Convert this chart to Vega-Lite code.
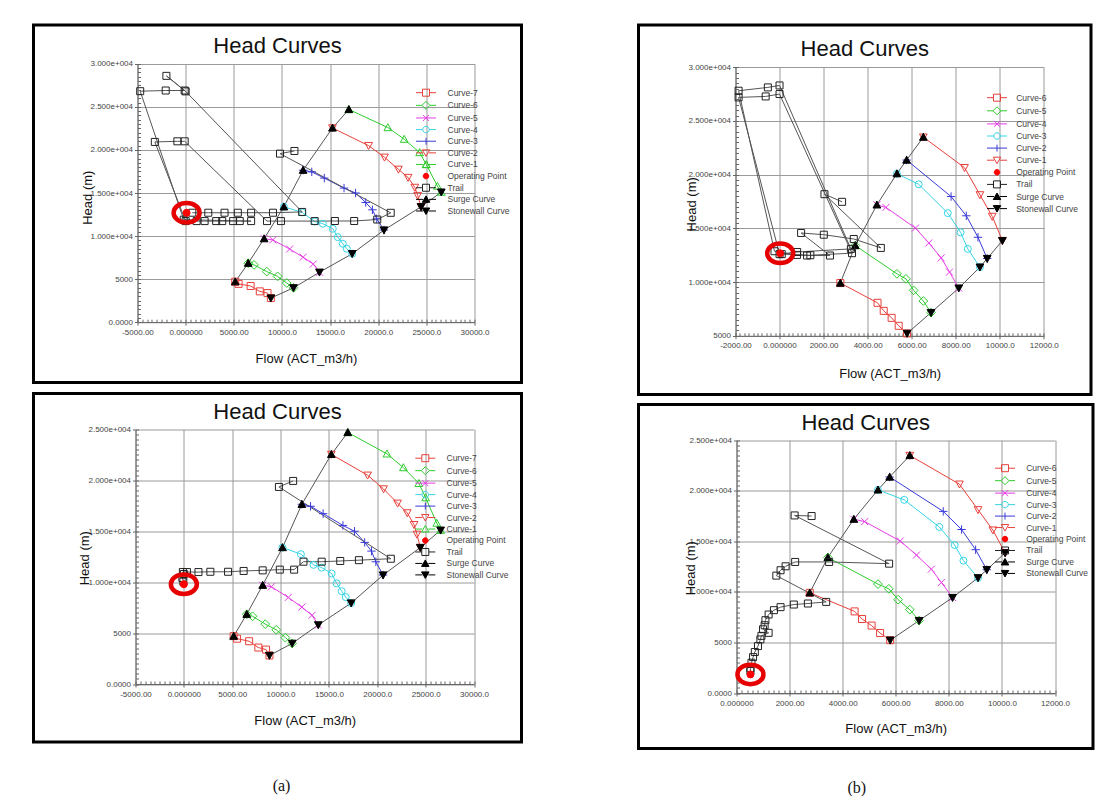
{
 "$schema": "https://vega.github.io/schema/vega-lite/v6.json",
 "background": "white",
 "padding": {"left": 31.5, "top": 23, "right": 0, "bottom": 0},
 "spacing": 113,
 "config": {
  "font": "Liberation Sans",
  "view": {"stroke": "black", "strokeWidth": 3, "fill": "white"},
  "axis": {"labelFont": "Liberation Sans", "labelFontSize": 8, "labelColor": "#444", "titleFont": "Liberation Sans", "titleFontSize": 13, "titleFontWeight": "normal", "titleColor": "#111", "domainColor": "#666", "tickColor": "#666", "gridColor": "#9a9a9a", "gridWidth": 1, "labelFlush": false, "labelOverlap": false, "labelAngle": 0},
  "legend": {"orient": "none", "symbolSize": 100, "symbolStrokeWidth": 1, "labelFont": "Liberation Sans", "labelFontSize": 8.5, "labelColor": "#444", "padding": 0, "symbolOffset": 0},
  "title": {"font": "Liberation Sans", "fontSize": 22, "fontWeight": "normal", "anchor": "middle", "color": "#111", "baseline": "middle"}
 },
 "datasets": {
  "tl": [
   {"s":"Curve-7","x":5150,"y":4700,"o":1},{"s":"Curve-7","x":5500,"y":4450,"o":2},{"s":"Curve-7","x":6750,"y":4200,"o":3},{"s":"Curve-7","x":7700,"y":3580,"o":4},{"s":"Curve-7","x":8500,"y":3380,"o":5},{"s":"Curve-7","x":8850,"y":2800,"o":6},
   {"s":"Curve-6","x":6500,"y":6850,"o":1},{"s":"Curve-6","x":7100,"y":6650,"o":2},{"s":"Curve-6","x":8420,"y":5880,"o":3},{"s":"Curve-6","x":9550,"y":5320,"o":4},{"s":"Curve-6","x":10500,"y":4550,"o":5},{"s":"Curve-6","x":11200,"y":3990,"o":6},
   {"s":"Curve-5","x":8150,"y":9700,"o":1},{"s":"Curve-5","x":9050,"y":9550,"o":2},{"s":"Curve-5","x":10800,"y":8500,"o":3},{"s":"Curve-5","x":12200,"y":7550,"o":4},{"s":"Curve-5","x":13250,"y":6750,"o":5},{"s":"Curve-5","x":13900,"y":5800,"o":6},
   {"s":"Curve-4","x":10200,"y":13400,"o":1},{"s":"Curve-4","x":12100,"y":12750,"o":2},{"s":"Curve-4","x":13400,"y":11700,"o":3},{"s":"Curve-4","x":14250,"y":11430,"o":4},{"s":"Curve-4","x":15280,"y":10850,"o":5},{"s":"Curve-4","x":15800,"y":9880,"o":6},{"s":"Curve-4","x":16320,"y":9110,"o":7},{"s":"Curve-4","x":16740,"y":8530,"o":8},{"s":"Curve-4","x":17300,"y":7950,"o":9},
   {"s":"Curve-3","x":12200,"y":17650,"o":1},{"s":"Curve-3","x":13100,"y":17450,"o":2},{"s":"Curve-3","x":14400,"y":16730,"o":3},{"s":"Curve-3","x":16450,"y":15570,"o":4},{"s":"Curve-3","x":17650,"y":15000,"o":5},{"s":"Curve-3","x":18700,"y":13900,"o":6},{"s":"Curve-3","x":19400,"y":13050,"o":7},{"s":"Curve-3","x":19850,"y":12000,"o":8},{"s":"Curve-3","x":20600,"y":10700,"o":9},
   {"s":"Curve-2","x":15250,"y":22550,"o":1},{"s":"Curve-2","x":19000,"y":20500,"o":2},{"s":"Curve-2","x":20650,"y":19150,"o":3},{"s":"Curve-2","x":22100,"y":17750,"o":4},{"s":"Curve-2","x":23100,"y":16800,"o":5},{"s":"Curve-2","x":23800,"y":15650,"o":6},{"s":"Curve-2","x":24100,"y":14700,"o":7},{"s":"Curve-2","x":24450,"y":13400,"o":8},
   {"s":"Curve-1","x":16950,"y":24700,"o":1},{"s":"Curve-1","x":21000,"y":22600,"o":2},{"s":"Curve-1","x":22700,"y":21250,"o":3},{"s":"Curve-1","x":24300,"y":19700,"o":4},{"s":"Curve-1","x":25000,"y":18300,"o":5},{"s":"Curve-1","x":26150,"y":15800,"o":6},{"s":"Curve-1","x":26550,"y":15100,"o":7},
   {"s":"Surge Curve","x":5150,"y":4700,"o":1},{"s":"Surge Curve","x":6500,"y":6850,"o":2},{"s":"Surge Curve","x":8150,"y":9700,"o":3},{"s":"Surge Curve","x":10200,"y":13400,"o":4},{"s":"Surge Curve","x":12200,"y":17650,"o":5},{"s":"Surge Curve","x":15250,"y":22550,"o":6},{"s":"Surge Curve","x":16950,"y":24700,"o":7},
   {"s":"Stonewall Curve","x":8850,"y":2800,"o":1},{"s":"Stonewall Curve","x":11200,"y":3990,"o":2},{"s":"Stonewall Curve","x":13900,"y":5800,"o":3},{"s":"Stonewall Curve","x":17300,"y":7950,"o":4},{"s":"Stonewall Curve","x":20600,"y":10700,"o":5},{"s":"Stonewall Curve","x":24450,"y":13400,"o":6},{"s":"Stonewall Curve","x":26550,"y":15100,"o":7},
   {"s":"Trail","x":11300,"y":19880,"o":1},{"s":"Trail","x":9800,"y":19570,"o":2},{"s":"Trail","x":21300,"y":12700,"o":3},{"s":"Trail","x":19900,"y":11920,"o":4},{"s":"Trail","x":17500,"y":11750,"o":5},{"s":"Trail","x":15500,"y":11750,"o":6},{"s":"Trail","x":13400,"y":11740,"o":7},{"s":"Trail","x":9900,"y":11740,"o":8},{"s":"Trail","x":8450,"y":11740,"o":9},{"s":"Trail","x":-100,"y":21000,"o":10},{"s":"Trail","x":-860,"y":21000,"o":11},{"s":"Trail","x":-3200,"y":20930,"o":12},{"s":"Trail","x":0,"y":11740,"o":13},{"s":"Trail","x":1140,"y":11740,"o":14},{"s":"Trail","x":1970,"y":11740,"o":15},{"s":"Trail","x":3170,"y":11740,"o":16},{"s":"Trail","x":3800,"y":11740,"o":17},{"s":"Trail","x":4930,"y":11740,"o":18},{"s":"Trail","x":5620,"y":11740,"o":19},{"s":"Trail","x":6800,"y":11740,"o":20},{"s":"Trail","x":-200,"y":11900,"o":21},{"s":"Trail","x":-4720,"y":26820,"o":22},{"s":"Trail","x":-2070,"y":26900,"o":23},{"s":"Trail","x":-100,"y":26900,"o":24},{"s":"Trail","x":-2000,"y":28600,"o":25},{"s":"Trail","x":0,"y":26800,"o":26},{"s":"Trail","x":12100,"y":12800,"o":27},{"s":"Trail","x":9070,"y":12710,"o":28},{"s":"Trail","x":6800,"y":12710,"o":29},{"s":"Trail","x":5420,"y":12710,"o":30},{"s":"Trail","x":4040,"y":12710,"o":31},{"s":"Trail","x":2350,"y":12710,"o":32},{"s":"Trail","x":690,"y":12710,"o":33},
   {"s":"Operating Point","x":100,"y":12700,"o":1}
  ],
  "bl": [
   {"s":"Curve-7","x":5150,"y":4700,"o":1},{"s":"Curve-7","x":5500,"y":4450,"o":2},{"s":"Curve-7","x":6750,"y":4200,"o":3},{"s":"Curve-7","x":7700,"y":3580,"o":4},{"s":"Curve-7","x":8500,"y":3380,"o":5},{"s":"Curve-7","x":8850,"y":2800,"o":6},
   {"s":"Curve-6","x":6500,"y":6850,"o":1},{"s":"Curve-6","x":7100,"y":6650,"o":2},{"s":"Curve-6","x":8420,"y":5880,"o":3},{"s":"Curve-6","x":9550,"y":5320,"o":4},{"s":"Curve-6","x":10500,"y":4550,"o":5},{"s":"Curve-6","x":11200,"y":3990,"o":6},
   {"s":"Curve-5","x":8150,"y":9700,"o":1},{"s":"Curve-5","x":9050,"y":9550,"o":2},{"s":"Curve-5","x":10800,"y":8500,"o":3},{"s":"Curve-5","x":12200,"y":7550,"o":4},{"s":"Curve-5","x":13250,"y":6750,"o":5},{"s":"Curve-5","x":13900,"y":5800,"o":6},
   {"s":"Curve-4","x":10200,"y":13400,"o":1},{"s":"Curve-4","x":12100,"y":12750,"o":2},{"s":"Curve-4","x":13400,"y":11700,"o":3},{"s":"Curve-4","x":14250,"y":11430,"o":4},{"s":"Curve-4","x":15280,"y":10850,"o":5},{"s":"Curve-4","x":15800,"y":9880,"o":6},{"s":"Curve-4","x":16320,"y":9110,"o":7},{"s":"Curve-4","x":16740,"y":8530,"o":8},{"s":"Curve-4","x":17300,"y":7950,"o":9},
   {"s":"Curve-3","x":12200,"y":17650,"o":1},{"s":"Curve-3","x":13100,"y":17450,"o":2},{"s":"Curve-3","x":14400,"y":16730,"o":3},{"s":"Curve-3","x":16450,"y":15570,"o":4},{"s":"Curve-3","x":17650,"y":15000,"o":5},{"s":"Curve-3","x":18700,"y":13900,"o":6},{"s":"Curve-3","x":19400,"y":13050,"o":7},{"s":"Curve-3","x":19850,"y":12000,"o":8},{"s":"Curve-3","x":20600,"y":10700,"o":9},
   {"s":"Curve-2","x":15250,"y":22550,"o":1},{"s":"Curve-2","x":19000,"y":20500,"o":2},{"s":"Curve-2","x":20650,"y":19150,"o":3},{"s":"Curve-2","x":22100,"y":17750,"o":4},{"s":"Curve-2","x":23100,"y":16800,"o":5},{"s":"Curve-2","x":23800,"y":15650,"o":6},{"s":"Curve-2","x":24100,"y":14700,"o":7},{"s":"Curve-2","x":24450,"y":13400,"o":8},
   {"s":"Curve-1","x":16950,"y":24700,"o":1},{"s":"Curve-1","x":21000,"y":22600,"o":2},{"s":"Curve-1","x":22700,"y":21250,"o":3},{"s":"Curve-1","x":24300,"y":19700,"o":4},{"s":"Curve-1","x":25000,"y":18300,"o":5},{"s":"Curve-1","x":26150,"y":15800,"o":6},{"s":"Curve-1","x":26550,"y":15100,"o":7},
   {"s":"Surge Curve","x":5150,"y":4700,"o":1},{"s":"Surge Curve","x":6500,"y":6850,"o":2},{"s":"Surge Curve","x":8150,"y":9700,"o":3},{"s":"Surge Curve","x":10200,"y":13400,"o":4},{"s":"Surge Curve","x":12200,"y":17650,"o":5},{"s":"Surge Curve","x":15250,"y":22550,"o":6},{"s":"Surge Curve","x":16950,"y":24700,"o":7},
   {"s":"Stonewall Curve","x":8850,"y":2800,"o":1},{"s":"Stonewall Curve","x":11200,"y":3990,"o":2},{"s":"Stonewall Curve","x":13900,"y":5800,"o":3},{"s":"Stonewall Curve","x":17300,"y":7950,"o":4},{"s":"Stonewall Curve","x":20600,"y":10700,"o":5},{"s":"Stonewall Curve","x":24450,"y":13400,"o":6},{"s":"Stonewall Curve","x":26550,"y":15100,"o":7},
   {"s":"Trail","x":11300,"y":19940,"o":1},{"s":"Trail","x":9830,"y":19350,"o":2},{"s":"Trail","x":21400,"y":12300,"o":3},{"s":"Trail","x":18100,"y":12160,"o":4},{"s":"Trail","x":16170,"y":12080,"o":5},{"s":"Trail","x":14250,"y":12010,"o":6},{"s":"Trail","x":12370,"y":12010,"o":7},{"s":"Trail","x":11400,"y":11230,"o":8},{"s":"Trail","x":9920,"y":11230,"o":9},{"s":"Trail","x":8150,"y":11160,"o":10},{"s":"Trail","x":6180,"y":11100,"o":11},{"s":"Trail","x":4570,"y":11020,"o":12},{"s":"Trail","x":2740,"y":11020,"o":13},{"s":"Trail","x":1510,"y":10990,"o":14},{"s":"Trail","x":320,"y":10990,"o":15},{"s":"Trail","x":-100,"y":11000,"o":16},{"s":"Trail","x":0,"y":10800,"o":17},{"s":"Trail","x":-150,"y":10400,"o":18},{"s":"Trail","x":-50,"y":10050,"o":19},
   {"s":"Operating Point","x":0,"y":9800,"o":1}
  ],
  "tr": [
   {"s":"Curve-6","x":2760,"y":9910,"o":1},{"s":"Curve-6","x":4450,"y":8070,"o":2},{"s":"Curve-6","x":4730,"y":7320,"o":3},{"s":"Curve-6","x":5090,"y":6670,"o":4},{"s":"Curve-6","x":5410,"y":5930,"o":5},{"s":"Curve-6","x":5790,"y":5220,"o":6},
   {"s":"Curve-5","x":3440,"y":13400,"o":1},{"s":"Curve-5","x":5330,"y":10770,"o":2},{"s":"Curve-5","x":5740,"y":10300,"o":3},{"s":"Curve-5","x":6090,"y":9230,"o":4},{"s":"Curve-5","x":6530,"y":8240,"o":5},{"s":"Curve-5","x":6880,"y":7160,"o":6},
   {"s":"Curve-4","x":4420,"y":17190,"o":1},{"s":"Curve-4","x":4830,"y":16950,"o":2},{"s":"Curve-4","x":6170,"y":15030,"o":3},{"s":"Curve-4","x":6780,"y":13640,"o":4},{"s":"Curve-4","x":7340,"y":12250,"o":5},{"s":"Curve-4","x":7720,"y":10930,"o":6},{"s":"Curve-4","x":8140,"y":9440,"o":7},
   {"s":"Curve-3","x":5330,"y":20090,"o":1},{"s":"Curve-3","x":6320,"y":19100,"o":2},{"s":"Curve-3","x":7640,"y":16420,"o":3},{"s":"Curve-3","x":8220,"y":14630,"o":4},{"s":"Curve-3","x":8550,"y":13090,"o":5},{"s":"Curve-3","x":9100,"y":11390,"o":6},
   {"s":"Curve-2","x":5770,"y":21360,"o":1},{"s":"Curve-2","x":7790,"y":17960,"o":2},{"s":"Curve-2","x":8480,"y":16170,"o":3},{"s":"Curve-2","x":9010,"y":14170,"o":4},{"s":"Curve-2","x":9430,"y":12190,"o":5},
   {"s":"Curve-1","x":6530,"y":23490,"o":1},{"s":"Curve-1","x":8400,"y":20650,"o":2},{"s":"Curve-1","x":9100,"y":18120,"o":3},{"s":"Curve-1","x":9660,"y":16110,"o":4},{"s":"Curve-1","x":10120,"y":13860,"o":5},
   {"s":"Surge Curve","x":2760,"y":9910,"o":1},{"s":"Surge Curve","x":3440,"y":13400,"o":2},{"s":"Surge Curve","x":4420,"y":17190,"o":3},{"s":"Surge Curve","x":5330,"y":20090,"o":4},{"s":"Surge Curve","x":5770,"y":21360,"o":5},{"s":"Surge Curve","x":6530,"y":23490,"o":6},
   {"s":"Stonewall Curve","x":5790,"y":5220,"o":1},{"s":"Stonewall Curve","x":6880,"y":7160,"o":2},{"s":"Stonewall Curve","x":8140,"y":9440,"o":3},{"s":"Stonewall Curve","x":9100,"y":11390,"o":4},{"s":"Stonewall Curve","x":9430,"y":12190,"o":5},{"s":"Stonewall Curve","x":10120,"y":13860,"o":6},
   {"s":"Trail","x":2840,"y":17470,"o":1},{"s":"Trail","x":2040,"y":18180,"o":2},{"s":"Trail","x":4600,"y":13180,"o":3},{"s":"Trail","x":3370,"y":14010,"o":4},{"s":"Trail","x":2010,"y":14410,"o":5},{"s":"Trail","x":980,"y":14570,"o":6},{"s":"Trail","x":2290,"y":12470,"o":7},{"s":"Trail","x":1250,"y":12470,"o":8},{"s":"Trail","x":790,"y":12530,"o":9},{"s":"Trail","x":-230,"y":12870,"o":10},{"s":"Trail","x":-1860,"y":27810,"o":11},{"s":"Trail","x":-530,"y":28120,"o":12},{"s":"Trail","x":0,"y":28300,"o":13},{"s":"Trail","x":3240,"y":13090,"o":14},{"s":"Trail","x":800,"y":12800,"o":15},{"s":"Trail","x":0,"y":12600,"o":16},{"s":"Trail","x":-1860,"y":27190,"o":17},{"s":"Trail","x":-630,"y":27280,"o":18},{"s":"Trail","x":0,"y":27500,"o":19},{"s":"Trail","x":3290,"y":12690,"o":20},{"s":"Trail","x":1400,"y":12500,"o":21},{"s":"Trail","x":100,"y":12600,"o":22},
   {"s":"Operating Point","x":30,"y":12680,"o":1}
  ],
  "br": [
   {"s":"Curve-6","x":2760,"y":9910,"o":1},{"s":"Curve-6","x":4450,"y":8070,"o":2},{"s":"Curve-6","x":4730,"y":7320,"o":3},{"s":"Curve-6","x":5090,"y":6670,"o":4},{"s":"Curve-6","x":5410,"y":5930,"o":5},{"s":"Curve-6","x":5790,"y":5220,"o":6},
   {"s":"Curve-5","x":3440,"y":13400,"o":1},{"s":"Curve-5","x":5330,"y":10770,"o":2},{"s":"Curve-5","x":5740,"y":10300,"o":3},{"s":"Curve-5","x":6090,"y":9230,"o":4},{"s":"Curve-5","x":6530,"y":8240,"o":5},{"s":"Curve-5","x":6880,"y":7160,"o":6},
   {"s":"Curve-4","x":4420,"y":17190,"o":1},{"s":"Curve-4","x":4830,"y":16950,"o":2},{"s":"Curve-4","x":6170,"y":15030,"o":3},{"s":"Curve-4","x":6780,"y":13640,"o":4},{"s":"Curve-4","x":7340,"y":12250,"o":5},{"s":"Curve-4","x":7720,"y":10930,"o":6},{"s":"Curve-4","x":8140,"y":9440,"o":7},
   {"s":"Curve-3","x":5330,"y":20090,"o":1},{"s":"Curve-3","x":6320,"y":19100,"o":2},{"s":"Curve-3","x":7640,"y":16420,"o":3},{"s":"Curve-3","x":8220,"y":14630,"o":4},{"s":"Curve-3","x":8550,"y":13090,"o":5},{"s":"Curve-3","x":9100,"y":11390,"o":6},
   {"s":"Curve-2","x":5770,"y":21360,"o":1},{"s":"Curve-2","x":7790,"y":17960,"o":2},{"s":"Curve-2","x":8480,"y":16170,"o":3},{"s":"Curve-2","x":9010,"y":14170,"o":4},{"s":"Curve-2","x":9430,"y":12190,"o":5},
   {"s":"Curve-1","x":6530,"y":23490,"o":1},{"s":"Curve-1","x":8400,"y":20650,"o":2},{"s":"Curve-1","x":9100,"y":18120,"o":3},{"s":"Curve-1","x":9660,"y":16110,"o":4},{"s":"Curve-1","x":10120,"y":13860,"o":5},
   {"s":"Surge Curve","x":2760,"y":9910,"o":1},{"s":"Surge Curve","x":3440,"y":13400,"o":2},{"s":"Surge Curve","x":4420,"y":17190,"o":3},{"s":"Surge Curve","x":5330,"y":20090,"o":4},{"s":"Surge Curve","x":5770,"y":21360,"o":5},{"s":"Surge Curve","x":6530,"y":23490,"o":6},
   {"s":"Stonewall Curve","x":5790,"y":5220,"o":1},{"s":"Stonewall Curve","x":6880,"y":7160,"o":2},{"s":"Stonewall Curve","x":8140,"y":9440,"o":3},{"s":"Stonewall Curve","x":9100,"y":11390,"o":4},{"s":"Stonewall Curve","x":9430,"y":12190,"o":5},{"s":"Stonewall Curve","x":10120,"y":13860,"o":6},
   {"s":"Trail","x":2830,"y":17500,"o":1},{"s":"Trail","x":2190,"y":17560,"o":2},{"s":"Trail","x":5750,"y":12790,"o":3},{"s":"Trail","x":3490,"y":12960,"o":4},{"s":"Trail","x":2210,"y":12960,"o":5},{"s":"Trail","x":1850,"y":12530,"o":6},{"s":"Trail","x":1660,"y":12140,"o":7},{"s":"Trail","x":1500,"y":11610,"o":8},{"s":"Trail","x":3380,"y":9010,"o":9},{"s":"Trail","x":2690,"y":8850,"o":10},{"s":"Trail","x":2160,"y":8750,"o":11},{"s":"Trail","x":1660,"y":8490,"o":12},{"s":"Trail","x":1410,"y":8190,"o":13},{"s":"Trail","x":1210,"y":7760,"o":14},{"s":"Trail","x":1090,"y":7200,"o":15},{"s":"Trail","x":1060,"y":6700,"o":16},{"s":"Trail","x":1000,"y":6300,"o":17},{"s":"Trail","x":1210,"y":5950,"o":18},{"s":"Trail","x":940,"y":5650,"o":19},{"s":"Trail","x":900,"y":5300,"o":20},{"s":"Trail","x":810,"y":4640,"o":21},{"s":"Trail","x":690,"y":4050,"o":22},{"s":"Trail","x":625,"y":3550,"o":23},{"s":"Trail","x":565,"y":2990,"o":24},{"s":"Trail","x":525,"y":2430,"o":25},{"s":"Trail","x":525,"y":2170,"o":26},
   {"s":"Operating Point","x":525,"y":1840,"o":1}
  ]
 },
 "hconcat": [
  {
   "spacing": 7.5,
   "title": {"text": "(a)", "orient": "bottom", "anchor": "middle", "frame": "bounds", "font": "Liberation Serif", "fontSize": 16, "baseline": "middle", "offset": 42.5, "dx": 4},
   "vconcat": [
    {
     "width": 488, "height": 357.5,
     "data": {"name": "tl"},
     "title": {"text": "Head Curves", "offset": -32.5},
     "layer": [
      {
       "transform": [{"filter": "datum.s !== 'Operating Point'"}],
       "mark": {"type": "line", "strokeWidth": 1},
       "encoding": {
        "x": {"field": "x", "type": "quantitative", "scale": {"domain": [-5000, 30000], "range": [104, 441], "nice": false, "zero": false},
              "axis": {"orient": "bottom", "offset": -60.3, "grid": false, "values": [-5000,0,5000,10000,15000,20000,25000,30000], "labelExpr": "datum.value == 0 ? '0.000000' : replace(abs(datum.value) < 10000 ? format(datum.value, '.2f') : format(datum.value, '.1f'), '\u2212', '-')", "tickSize": 3, "labelPadding": 3, "title": "Flow (ACT_m3/h)", "titleY": 36.5, "titleBaseline": "middle"}},
        "y": {"field": "y", "type": "quantitative", "scale": {"domain": [0, 30000], "range": [297.2, 38.8], "nice": false, "zero": false},
              "axis": {"orient": "left", "offset": -104, "grid": true, "values": [0,5000,10000,15000,20000,25000,30000], "labelExpr": "datum.value == 0 ? '0.0000' : datum.value < 10000 ? format(datum.value, 'd') : format(datum.value / 10000, '.3f') + 'e+004'", "tickSize": 3, "labelPadding": 2, "title": "Head (m)", "titleX": -50, "titleY": 172.2, "titleAngle": -90, "titleAlign": "center", "titleBaseline": "middle"}},
        "stroke": {"field": "s", "type": "nominal", "scale": {"domain": ["Curve-7","Curve-6","Curve-5","Curve-4","Curve-3","Curve-2","Curve-1","Operating Point","Trail","Surge Curve","Stonewall Curve"], "range": ["#e8403a","#2ecc2e","#e83ce8","#38d4e6","#3a3ad8","#e8403a","#2ecc2e","#ff0000","#555555","#555555","#555555"]}, "legend": null},
        "order": {"field": "o", "type": "quantitative"}
       }
      },
      {
       "mark": {"type": "point", "size": 49, "strokeWidth": 1, "opacity": 1},
       "encoding": {
        "x": {"field": "x", "type": "quantitative", "axis": {"orient": "top", "offset": 0, "grid": true, "values": [-5000,0,5000,10000,15000,20000,25000,30000], "labels": false, "ticks": false, "domain": false, "title": null}},
        "y": {"field": "y", "type": "quantitative", "axis": null},
        "shape": {"field": "s", "type": "nominal", "scale": {"domain": ["Curve-7","Curve-6","Curve-5","Curve-4","Curve-3","Curve-2","Curve-1","Operating Point","Trail","Surge Curve","Stonewall Curve"], "range": ["M-1,-1H1V1H-1Z","M0,-1.25L1.25,0L0,1.25L-1.25,0Z","M-1,-1L1,1M-1,1L1,-1","circle","M-1.2,0H1.2M0,-1.2V1.2","M-1.1,-0.9H1.1L0,1.1Z","M-1.1,0.9H1.1L0,-1.1Z","circle","M-1,-1H1V1H-1Z","M-1.1,0.9H1.1L0,-1.1Z","M-1.1,-0.9H1.1L0,1.1Z"]}, "legend": null},
        "stroke": {"field": "s", "type": "nominal", "scale": {"domain": ["Curve-7","Curve-6","Curve-5","Curve-4","Curve-3","Curve-2","Curve-1","Operating Point","Trail","Surge Curve","Stonewall Curve"], "range": ["#e8403a","#2ecc2e","#e83ce8","#38d4e6","#3a3ad8","#e8403a","#2ecc2e","#ff0000","#222222","#000000","#000000"]}, "legend": null},
        "fill": {"field": "s", "type": "nominal", "scale": {"domain": ["Curve-7","Curve-6","Curve-5","Curve-4","Curve-3","Curve-2","Curve-1","Operating Point","Trail","Surge Curve","Stonewall Curve"], "range": ["transparent","transparent","transparent","transparent","transparent","transparent","transparent","#ff0000","transparent","#000000","#000000"]}, "legend": null}
       }
      },
      {
       "transform": [{"filter": "false"}],
       "mark": {"type": "point", "size": 100, "strokeWidth": 1, "opacity": 1},
       "encoding": {
        "x": {"field": "x", "type": "quantitative", "axis": {"orient": "top", "offset": -297.2, "tickCount": 70, "labels": false, "domain": false, "grid": false, "tickSize": 3, "title": null}},
        "y": {"field": "y", "type": "quantitative", "axis": null},
        "shape": {"field": "s", "type": "nominal", "scale": {"domain": ["Curve-7","Curve-6","Curve-5","Curve-4","Curve-3","Curve-2","Curve-1","Operating Point","Trail","Surge Curve","Stonewall Curve"], "range": ["M-2,0H-0.7M0.7,0H2M-0.7,-0.7H0.7V0.7H-0.7Z","M-2,0H-0.8M0.8,0H2M0,-0.8L0.8,0L0,0.8L-0.8,0Z","M-2,0H2M-0.6,-0.6L0.6,0.6M-0.6,0.6L0.6,-0.6","M-2,0H-0.65M0.65,0H2M-0.65,0A0.65,0.65,0,1,0,0.65,0A0.65,0.65,0,1,0,-0.65,0Z","M-2,0H2M0,-0.7V0.7","M-2,0H-0.6M0.6,0H2M-0.75,-0.6H0.75L0,0.7Z","M-2,0H-0.6M0.6,0H2M-0.75,0.6H0.75L0,-0.7Z","M-0.55,0A0.55,0.55,0,1,0,0.55,0A0.55,0.55,0,1,0,-0.55,0Z","M-2,0H-0.7M0.7,0H2M-0.7,-0.7H0.7V0.7H-0.7Z","M-2,0H-0.6M0.6,0H2M-0.75,0.6H0.75L0,-0.7Z","M-2,0H-0.6M0.6,0H2M-0.75,-0.6H0.75L0,0.7Z"]}, "legend": {"title": null, "legendX": 387, "legendY": 62.2, "rowPadding": 0.63, "labelOffset": 16}},
        "stroke": {"field": "s", "type": "nominal", "scale": {"domain": ["Curve-7","Curve-6","Curve-5","Curve-4","Curve-3","Curve-2","Curve-1","Operating Point","Trail","Surge Curve","Stonewall Curve"], "range": ["#e8403a","#2ecc2e","#e83ce8","#38d4e6","#3a3ad8","#e8403a","#2ecc2e","#ff0000","#222222","#000000","#000000"]}, "legend": {"title": null, "legendX": 387, "legendY": 62.2, "rowPadding": 0.63, "labelOffset": 16}},
        "fill": {"field": "s", "type": "nominal", "scale": {"domain": ["Curve-7","Curve-6","Curve-5","Curve-4","Curve-3","Curve-2","Curve-1","Operating Point","Trail","Surge Curve","Stonewall Curve"], "range": ["transparent","transparent","transparent","transparent","transparent","transparent","transparent","#ff0000","transparent","#000000","#000000"]}, "legend": {"title": null, "legendX": 387, "legendY": 62.2, "rowPadding": 0.63, "labelOffset": 16}}
       }
      },
      {
       "transform": [{"filter": "datum.s === 'Operating Point'"}],
       "mark": {"type": "point", "shape": "M-1,0A1,0.75,0,1,0,1,0A1,0.75,0,1,0,-1,0Z", "size": 676, "strokeWidth": 4.5, "color": "#e60000", "filled": false, "opacity": 1},
       "encoding": {
        "x": {"field": "x", "type": "quantitative", "axis": null},
        "y": {"field": "y", "type": "quantitative", "axis": {"orient": "right", "offset": -384, "tickCount": 60, "labels": false, "domain": false, "grid": false, "tickSize": 3, "title": null}}
       }
      }
     ],
     "resolve": {"scale": {"shape": "independent", "stroke": "independent", "fill": "independent"}, "axis": {"x": "independent", "y": "independent"}}
    },
    {
     "width": 488, "height": 348.5,
     "data": {"name": "bl"},
     "title": {"text": "Head Curves", "offset": -30.8},
     "layer": [
      {
       "transform": [{"filter": "datum.s !== 'Operating Point'"}],
       "mark": {"type": "line", "strokeWidth": 1},
       "encoding": {
        "x": {"field": "x", "type": "quantitative", "scale": {"domain": [-5000, 30000], "range": [102, 440.5], "nice": false, "zero": false},
              "axis": {"orient": "bottom", "offset": -58, "grid": false, "values": [-5000,0,5000,10000,15000,20000,25000,30000], "labelExpr": "datum.value == 0 ? '0.000000' : replace(abs(datum.value) < 10000 ? format(datum.value, '.2f') : format(datum.value, '.1f'), '\u2212', '-')", "tickSize": 3, "labelPadding": 3, "title": "Flow (ACT_m3/h)", "titleY": 36.3, "titleBaseline": "middle"}},
        "y": {"field": "y", "type": "quantitative", "scale": {"domain": [0, 25000], "range": [290.5, 35.9], "nice": false, "zero": false},
              "axis": {"orient": "left", "offset": -102, "grid": true, "values": [0,5000,10000,15000,20000,25000], "labelExpr": "datum.value == 0 ? '0.0000' : datum.value < 10000 ? format(datum.value, 'd') : format(datum.value / 10000, '.3f') + 'e+004'", "tickSize": 3, "labelPadding": 2, "title": "Head (m)", "titleX": -51, "titleY": 164.2, "titleAngle": -90, "titleAlign": "center", "titleBaseline": "middle"}},
        "stroke": {"field": "s", "type": "nominal", "scale": {"domain": ["Curve-7","Curve-6","Curve-5","Curve-4","Curve-3","Curve-2","Curve-1","Operating Point","Trail","Surge Curve","Stonewall Curve"], "range": ["#e8403a","#2ecc2e","#e83ce8","#38d4e6","#3a3ad8","#e8403a","#2ecc2e","#ff0000","#555555","#555555","#555555"]}, "legend": null},
        "order": {"field": "o", "type": "quantitative"}
       }
      },
      {
       "mark": {"type": "point", "size": 49, "strokeWidth": 1, "opacity": 1},
       "encoding": {
        "x": {"field": "x", "type": "quantitative", "axis": {"orient": "top", "offset": 0, "grid": true, "values": [-5000,0,5000,10000,15000,20000,25000,30000], "labels": false, "ticks": false, "domain": false, "title": null}},
        "y": {"field": "y", "type": "quantitative", "axis": null},
        "shape": {"field": "s", "type": "nominal", "scale": {"domain": ["Curve-7","Curve-6","Curve-5","Curve-4","Curve-3","Curve-2","Curve-1","Operating Point","Trail","Surge Curve","Stonewall Curve"], "range": ["M-1,-1H1V1H-1Z","M0,-1.25L1.25,0L0,1.25L-1.25,0Z","M-1,-1L1,1M-1,1L1,-1","circle","M-1.2,0H1.2M0,-1.2V1.2","M-1.1,-0.9H1.1L0,1.1Z","M-1.1,0.9H1.1L0,-1.1Z","circle","M-1,-1H1V1H-1Z","M-1.1,0.9H1.1L0,-1.1Z","M-1.1,-0.9H1.1L0,1.1Z"]}, "legend": null},
        "stroke": {"field": "s", "type": "nominal", "scale": {"domain": ["Curve-7","Curve-6","Curve-5","Curve-4","Curve-3","Curve-2","Curve-1","Operating Point","Trail","Surge Curve","Stonewall Curve"], "range": ["#e8403a","#2ecc2e","#e83ce8","#38d4e6","#3a3ad8","#e8403a","#2ecc2e","#ff0000","#222222","#000000","#000000"]}, "legend": null},
        "fill": {"field": "s", "type": "nominal", "scale": {"domain": ["Curve-7","Curve-6","Curve-5","Curve-4","Curve-3","Curve-2","Curve-1","Operating Point","Trail","Surge Curve","Stonewall Curve"], "range": ["transparent","transparent","transparent","transparent","transparent","transparent","transparent","#ff0000","transparent","#000000","#000000"]}, "legend": null}
       }
      },
      {
       "transform": [{"filter": "false"}],
       "mark": {"type": "point", "size": 100, "strokeWidth": 1, "opacity": 1},
       "encoding": {
        "x": {"field": "x", "type": "quantitative", "axis": {"orient": "top", "offset": -290.5, "tickCount": 70, "labels": false, "domain": false, "grid": false, "tickSize": 3, "title": null}},
        "y": {"field": "y", "type": "quantitative", "axis": null},
        "shape": {"field": "s", "type": "nominal", "scale": {"domain": ["Curve-7","Curve-6","Curve-5","Curve-4","Curve-3","Curve-2","Curve-1","Operating Point","Trail","Surge Curve","Stonewall Curve"], "range": ["M-2,0H-0.7M0.7,0H2M-0.7,-0.7H0.7V0.7H-0.7Z","M-2,0H-0.8M0.8,0H2M0,-0.8L0.8,0L0,0.8L-0.8,0Z","M-2,0H2M-0.6,-0.6L0.6,0.6M-0.6,0.6L0.6,-0.6","M-2,0H-0.65M0.65,0H2M-0.65,0A0.65,0.65,0,1,0,0.65,0A0.65,0.65,0,1,0,-0.65,0Z","M-2,0H2M0,-0.7V0.7","M-2,0H-0.6M0.6,0H2M-0.75,-0.6H0.75L0,0.7Z","M-2,0H-0.6M0.6,0H2M-0.75,0.6H0.75L0,-0.7Z","M-0.55,0A0.55,0.55,0,1,0,0.55,0A0.55,0.55,0,1,0,-0.55,0Z","M-2,0H-0.7M0.7,0H2M-0.7,-0.7H0.7V0.7H-0.7Z","M-2,0H-0.6M0.6,0H2M-0.75,0.6H0.75L0,-0.7Z","M-2,0H-0.6M0.6,0H2M-0.75,-0.6H0.75L0,0.7Z"]}, "legend": {"title": null, "legendX": 386.3, "legendY": 59.2, "rowPadding": 0.47, "labelOffset": 15.7}},
        "stroke": {"field": "s", "type": "nominal", "scale": {"domain": ["Curve-7","Curve-6","Curve-5","Curve-4","Curve-3","Curve-2","Curve-1","Operating Point","Trail","Surge Curve","Stonewall Curve"], "range": ["#e8403a","#2ecc2e","#e83ce8","#38d4e6","#3a3ad8","#e8403a","#2ecc2e","#ff0000","#222222","#000000","#000000"]}, "legend": {"title": null, "legendX": 386.3, "legendY": 59.2, "rowPadding": 0.47, "labelOffset": 15.7}},
        "fill": {"field": "s", "type": "nominal", "scale": {"domain": ["Curve-7","Curve-6","Curve-5","Curve-4","Curve-3","Curve-2","Curve-1","Operating Point","Trail","Surge Curve","Stonewall Curve"], "range": ["transparent","transparent","transparent","transparent","transparent","transparent","transparent","#ff0000","transparent","#000000","#000000"]}, "legend": {"title": null, "legendX": 386.3, "legendY": 59.2, "rowPadding": 0.47, "labelOffset": 15.7}}
       }
      },
      {
       "transform": [{"filter": "datum.s === 'Operating Point'"}],
       "mark": {"type": "point", "shape": "M-1,0A1,0.75,0,1,0,1,0A1,0.75,0,1,0,-1,0Z", "size": 676, "strokeWidth": 4.5, "color": "#e60000", "filled": false, "opacity": 1},
       "encoding": {
        "x": {"field": "x", "type": "quantitative", "axis": null},
        "y": {"field": "y", "type": "quantitative", "axis": {"orient": "right", "offset": -386, "tickCount": 50, "labels": false, "domain": false, "grid": false, "tickSize": 3, "title": null}}
       }
      }
     ],
     "resolve": {"scale": {"shape": "independent", "stroke": "independent", "fill": "independent"}, "axis": {"x": "independent", "y": "independent"}}
    }
   ]
  },
  {
   "spacing": 6.5,
   "title": {"text": "(b)", "orient": "bottom", "anchor": "middle", "frame": "bounds", "font": "Liberation Serif", "fontSize": 16, "baseline": "middle", "offset": 38, "dx": -9},
   "vconcat": [
    {
     "width": 452.5, "height": 369.5,
     "data": {"name": "tr"},
     "title": {"text": "Head Curves", "offset": -36.2},
     "layer": [
      {
       "transform": [{"filter": "datum.s !== 'Operating Point'"}],
       "mark": {"type": "line", "strokeWidth": 1},
       "encoding": {
        "x": {"field": "x", "type": "quantitative", "scale": {"domain": [-2000, 12000], "range": [97, 405.3], "nice": false, "zero": false},
              "axis": {"orient": "bottom", "offset": -58.7, "grid": false, "values": [-2000,0,2000,4000,6000,8000,10000,12000], "labelExpr": "datum.value == 0 ? '0.000000' : replace(abs(datum.value) < 10000 ? format(datum.value, '.2f') : format(datum.value, '.1f'), '\u2212', '-')", "tickSize": 3, "labelPadding": 3, "title": "Flow (ACT_m3/h)", "titleY": 37.4, "titleBaseline": "middle"}},
        "y": {"field": "y", "type": "quantitative", "scale": {"domain": [5000, 30000], "range": [310.8, 42.2], "nice": false, "zero": false},
              "axis": {"orient": "left", "offset": -97, "grid": true, "values": [5000,10000,15000,20000,25000,30000], "labelExpr": "datum.value == 0 ? '0.0000' : datum.value < 10000 ? format(datum.value, 'd') : format(datum.value / 10000, '.3f') + 'e+004'", "tickSize": 3, "labelPadding": 2, "title": "Head (m)", "titleX": -44, "titleY": 178.8, "titleAngle": -90, "titleAlign": "center", "titleBaseline": "middle"}},
        "stroke": {"field": "s", "type": "nominal", "scale": {"domain": ["Curve-6","Curve-5","Curve-4","Curve-3","Curve-2","Curve-1","Operating Point","Trail","Surge Curve","Stonewall Curve"], "range": ["#e8403a","#2ecc2e","#e83ce8","#38d4e6","#3a3ad8","#e8403a","#ff0000","#555555","#555555","#555555"]}, "legend": null},
        "order": {"field": "o", "type": "quantitative"}
       }
      },
      {
       "mark": {"type": "point", "size": 49, "strokeWidth": 1, "opacity": 1},
       "encoding": {
        "x": {"field": "x", "type": "quantitative", "axis": {"orient": "top", "offset": 0, "grid": true, "values": [-2000,0,2000,4000,6000,8000,10000,12000], "labels": false, "ticks": false, "domain": false, "title": null}},
        "y": {"field": "y", "type": "quantitative", "axis": null},
        "shape": {"field": "s", "type": "nominal", "scale": {"domain": ["Curve-6","Curve-5","Curve-4","Curve-3","Curve-2","Curve-1","Operating Point","Trail","Surge Curve","Stonewall Curve"], "range": ["M-1,-1H1V1H-1Z","M0,-1.25L1.25,0L0,1.25L-1.25,0Z","M-1,-1L1,1M-1,1L1,-1","circle","M-1.2,0H1.2M0,-1.2V1.2","M-1.1,-0.9H1.1L0,1.1Z","circle","M-1,-1H1V1H-1Z","M-1.1,0.9H1.1L0,-1.1Z","M-1.1,-0.9H1.1L0,1.1Z"]}, "legend": null},
        "stroke": {"field": "s", "type": "nominal", "scale": {"domain": ["Curve-6","Curve-5","Curve-4","Curve-3","Curve-2","Curve-1","Operating Point","Trail","Surge Curve","Stonewall Curve"], "range": ["#e8403a","#2ecc2e","#e83ce8","#38d4e6","#3a3ad8","#e8403a","#ff0000","#222222","#000000","#000000"]}, "legend": null},
        "fill": {"field": "s", "type": "nominal", "scale": {"domain": ["Curve-6","Curve-5","Curve-4","Curve-3","Curve-2","Curve-1","Operating Point","Trail","Surge Curve","Stonewall Curve"], "range": ["transparent","transparent","transparent","transparent","transparent","transparent","#ff0000","transparent","#000000","#000000"]}, "legend": null}
       }
      },
      {
       "transform": [{"filter": "false"}],
       "mark": {"type": "point", "size": 100, "strokeWidth": 1, "opacity": 1},
       "encoding": {
        "x": {"field": "x", "type": "quantitative", "axis": {"orient": "top", "offset": -310.8, "tickCount": 70, "labels": false, "domain": false, "grid": false, "tickSize": 3, "title": null}},
        "y": {"field": "y", "type": "quantitative", "axis": null},
        "shape": {"field": "s", "type": "nominal", "scale": {"domain": ["Curve-6","Curve-5","Curve-4","Curve-3","Curve-2","Curve-1","Operating Point","Trail","Surge Curve","Stonewall Curve"], "range": ["M-2,0H-0.7M0.7,0H2M-0.7,-0.7H0.7V0.7H-0.7Z","M-2,0H-0.8M0.8,0H2M0,-0.8L0.8,0L0,0.8L-0.8,0Z","M-2,0H2M-0.6,-0.6L0.6,0.6M-0.6,0.6L0.6,-0.6","M-2,0H-0.65M0.65,0H2M-0.65,0A0.65,0.65,0,1,0,0.65,0A0.65,0.65,0,1,0,-0.65,0Z","M-2,0H2M0,-0.7V0.7","M-2,0H-0.6M0.6,0H2M-0.75,-0.6H0.75L0,0.7Z","M-0.55,0A0.55,0.55,0,1,0,0.55,0A0.55,0.55,0,1,0,-0.55,0Z","M-2,0H-0.7M0.7,0H2M-0.7,-0.7H0.7V0.7H-0.7Z","M-2,0H-0.6M0.6,0H2M-0.75,0.6H0.75L0,-0.7Z","M-2,0H-0.6M0.6,0H2M-0.75,-0.6H0.75L0,0.7Z"]}, "legend": {"title": null, "legendX": 353, "legendY": 67.2, "rowPadding": 1.1, "labelOffset": 13.7}},
        "stroke": {"field": "s", "type": "nominal", "scale": {"domain": ["Curve-6","Curve-5","Curve-4","Curve-3","Curve-2","Curve-1","Operating Point","Trail","Surge Curve","Stonewall Curve"], "range": ["#e8403a","#2ecc2e","#e83ce8","#38d4e6","#3a3ad8","#e8403a","#ff0000","#222222","#000000","#000000"]}, "legend": {"title": null, "legendX": 353, "legendY": 67.2, "rowPadding": 1.1, "labelOffset": 13.7}},
        "fill": {"field": "s", "type": "nominal", "scale": {"domain": ["Curve-6","Curve-5","Curve-4","Curve-3","Curve-2","Curve-1","Operating Point","Trail","Surge Curve","Stonewall Curve"], "range": ["transparent","transparent","transparent","transparent","transparent","transparent","#ff0000","transparent","#000000","#000000"]}, "legend": {"title": null, "legendX": 353, "legendY": 67.2, "rowPadding": 1.1, "labelOffset": 13.7}}
       }
      },
      {
       "transform": [{"filter": "datum.s === 'Operating Point'"}],
       "mark": {"type": "point", "shape": "M-1,0A1,0.75,0,1,0,1,0A1,0.75,0,1,0,-1,0Z", "size": 676, "strokeWidth": 4.5, "color": "#e60000", "filled": false, "opacity": 1},
       "encoding": {
        "x": {"field": "x", "type": "quantitative", "axis": null},
        "y": {"field": "y", "type": "quantitative", "axis": {"orient": "right", "offset": -355.5, "tickCount": 50, "labels": false, "domain": false, "grid": false, "tickSize": 3, "title": null}}
       }
      }
     ],
     "resolve": {"scale": {"shape": "independent", "stroke": "independent", "fill": "independent"}, "axis": {"x": "independent", "y": "independent"}}
    },
    {
     "width": 454.5, "height": 344,
     "data": {"name": "br"},
     "title": {"text": "Head Curves", "offset": -30.8},
     "layer": [
      {
       "transform": [{"filter": "datum.s !== 'Operating Point'"}],
       "mark": {"type": "line", "strokeWidth": 1},
       "encoding": {
        "x": {"field": "x", "type": "quantitative", "scale": {"domain": [0, 12000], "range": [98, 416.5], "nice": false, "zero": false},
              "axis": {"orient": "bottom", "offset": -55.5, "grid": false, "values": [0,2000,4000,6000,8000,10000,12000], "labelExpr": "datum.value == 0 ? '0.000000' : replace(abs(datum.value) < 10000 ? format(datum.value, '.2f') : format(datum.value, '.1f'), '\u2212', '-')", "tickSize": 3, "labelPadding": 3, "title": "Flow (ACT_m3/h)", "titleY": 35.7, "titleBaseline": "middle"}},
        "y": {"field": "y", "type": "quantitative", "scale": {"domain": [0, 25000], "range": [288.5, 35.7], "nice": false, "zero": false},
              "axis": {"orient": "left", "offset": -98, "grid": true, "values": [0,5000,10000,15000,20000,25000], "labelExpr": "datum.value == 0 ? '0.0000' : datum.value < 10000 ? format(datum.value, 'd') : format(datum.value / 10000, '.3f') + 'e+004'", "tickSize": 3, "labelPadding": 2, "title": "Head (m)", "titleX": -46, "titleY": 163.2, "titleAngle": -90, "titleAlign": "center", "titleBaseline": "middle"}},
        "stroke": {"field": "s", "type": "nominal", "scale": {"domain": ["Curve-6","Curve-5","Curve-4","Curve-3","Curve-2","Curve-1","Operating Point","Trail","Surge Curve","Stonewall Curve"], "range": ["#e8403a","#2ecc2e","#e83ce8","#38d4e6","#3a3ad8","#e8403a","#ff0000","#555555","#555555","#555555"]}, "legend": null},
        "order": {"field": "o", "type": "quantitative"}
       }
      },
      {
       "mark": {"type": "point", "size": 49, "strokeWidth": 1, "opacity": 1},
       "encoding": {
        "x": {"field": "x", "type": "quantitative", "axis": {"orient": "top", "offset": 0, "grid": true, "values": [0,2000,4000,6000,8000,10000,12000], "labels": false, "ticks": false, "domain": false, "title": null}},
        "y": {"field": "y", "type": "quantitative", "axis": null},
        "shape": {"field": "s", "type": "nominal", "scale": {"domain": ["Curve-6","Curve-5","Curve-4","Curve-3","Curve-2","Curve-1","Operating Point","Trail","Surge Curve","Stonewall Curve"], "range": ["M-1,-1H1V1H-1Z","M0,-1.25L1.25,0L0,1.25L-1.25,0Z","M-1,-1L1,1M-1,1L1,-1","circle","M-1.2,0H1.2M0,-1.2V1.2","M-1.1,-0.9H1.1L0,1.1Z","circle","M-1,-1H1V1H-1Z","M-1.1,0.9H1.1L0,-1.1Z","M-1.1,-0.9H1.1L0,1.1Z"]}, "legend": null},
        "stroke": {"field": "s", "type": "nominal", "scale": {"domain": ["Curve-6","Curve-5","Curve-4","Curve-3","Curve-2","Curve-1","Operating Point","Trail","Surge Curve","Stonewall Curve"], "range": ["#e8403a","#2ecc2e","#e83ce8","#38d4e6","#3a3ad8","#e8403a","#ff0000","#222222","#000000","#000000"]}, "legend": null},
        "fill": {"field": "s", "type": "nominal", "scale": {"domain": ["Curve-6","Curve-5","Curve-4","Curve-3","Curve-2","Curve-1","Operating Point","Trail","Surge Curve","Stonewall Curve"], "range": ["transparent","transparent","transparent","transparent","transparent","transparent","#ff0000","transparent","#000000","#000000"]}, "legend": null}
       }
      },
      {
       "transform": [{"filter": "false"}],
       "mark": {"type": "point", "size": 100, "strokeWidth": 1, "opacity": 1},
       "encoding": {
        "x": {"field": "x", "type": "quantitative", "axis": {"orient": "top", "offset": -288.5, "tickCount": 60, "labels": false, "domain": false, "grid": false, "tickSize": 3, "title": null}},
        "y": {"field": "y", "type": "quantitative", "axis": null},
        "shape": {"field": "s", "type": "nominal", "scale": {"domain": ["Curve-6","Curve-5","Curve-4","Curve-3","Curve-2","Curve-1","Operating Point","Trail","Surge Curve","Stonewall Curve"], "range": ["M-2,0H-0.7M0.7,0H2M-0.7,-0.7H0.7V0.7H-0.7Z","M-2,0H-0.8M0.8,0H2M0,-0.8L0.8,0L0,0.8L-0.8,0Z","M-2,0H2M-0.6,-0.6L0.6,0.6M-0.6,0.6L0.6,-0.6","M-2,0H-0.65M0.65,0H2M-0.65,0A0.65,0.65,0,1,0,0.65,0A0.65,0.65,0,1,0,-0.65,0Z","M-2,0H2M0,-0.7V0.7","M-2,0H-0.6M0.6,0H2M-0.75,-0.6H0.75L0,0.7Z","M-0.55,0A0.55,0.55,0,1,0,0.55,0A0.55,0.55,0,1,0,-0.55,0Z","M-2,0H-0.7M0.7,0H2M-0.7,-0.7H0.7V0.7H-0.7Z","M-2,0H-0.6M0.6,0H2M-0.75,0.6H0.75L0,-0.7Z","M-2,0H-0.6M0.6,0H2M-0.75,-0.6H0.75L0,0.7Z"]}, "legend": {"title": null, "legendX": 361, "legendY": 58.2, "rowPadding": 0.47, "labelOffset": 15.7}},
        "stroke": {"field": "s", "type": "nominal", "scale": {"domain": ["Curve-6","Curve-5","Curve-4","Curve-3","Curve-2","Curve-1","Operating Point","Trail","Surge Curve","Stonewall Curve"], "range": ["#e8403a","#2ecc2e","#e83ce8","#38d4e6","#3a3ad8","#e8403a","#ff0000","#222222","#000000","#000000"]}, "legend": {"title": null, "legendX": 361, "legendY": 58.2, "rowPadding": 0.47, "labelOffset": 15.7}},
        "fill": {"field": "s", "type": "nominal", "scale": {"domain": ["Curve-6","Curve-5","Curve-4","Curve-3","Curve-2","Curve-1","Operating Point","Trail","Surge Curve","Stonewall Curve"], "range": ["transparent","transparent","transparent","transparent","transparent","transparent","#ff0000","transparent","#000000","#000000"]}, "legend": {"title": null, "legendX": 361, "legendY": 58.2, "rowPadding": 0.47, "labelOffset": 15.7}}
       }
      },
      {
       "transform": [{"filter": "datum.s === 'Operating Point'"}],
       "mark": {"type": "point", "shape": "M-1,0A1,0.75,0,1,0,1,0A1,0.75,0,1,0,-1,0Z", "size": 676, "strokeWidth": 4.5, "color": "#e60000", "filled": false, "opacity": 1},
       "encoding": {
        "x": {"field": "x", "type": "quantitative", "axis": null},
        "y": {"field": "y", "type": "quantitative", "axis": {"orient": "right", "offset": -356.5, "tickCount": 50, "labels": false, "domain": false, "grid": false, "tickSize": 3, "title": null}}
       }
      }
     ],
     "resolve": {"scale": {"shape": "independent", "stroke": "independent", "fill": "independent"}, "axis": {"x": "independent", "y": "independent"}}
    }
   ]
  }
 ]
}
